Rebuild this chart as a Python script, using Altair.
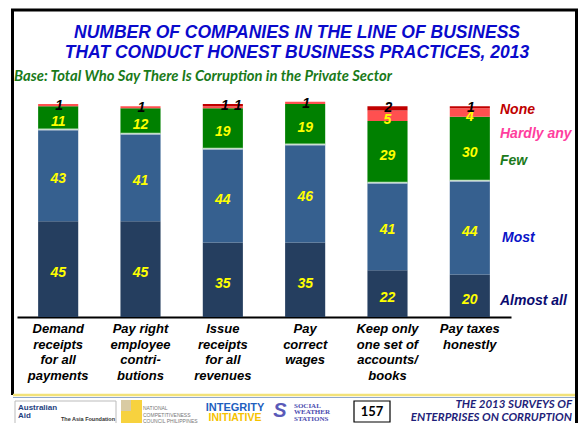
import altair as alt
import pandas as pd

# ---------------- data ----------------
categories = [
    "Demand\nreceipts\nfor all\npayments",
    "Pay right\nemployee\ncontri-\nbutions",
    "Issue\nreceipts\nfor all\nrevenues",
    "Pay\ncorrect\nwages",
    "Keep only\none set of\naccounts/\nbooks",
    "Pay taxes\nhonestly",
]
series = ["Almost all", "Most", "Few", "Hardly any", "None"]
almost_all = [45, 45, 35, 35, 22, 20]
most = [43, 41, 44, 46, 41, 44]
few = [11, 12, 19, 19, 29, 30]
hardly_any = [1, 1, 1, 1, 5, 4]
none_ = [0, 0, 1, 0, 2, 1]

bar_colors = ["#253E5F", "#36608F", "#008000", "#FF5050", "#C00000"]
legend_colors = ["#0B0B70", "#0B14C8", "#1B7A1B", "#FF3E9E", "#C00000"]

title_lines = [
    "NUMBER OF COMPANIES IN THE LINE OF BUSINESS",
    "THAT CONDUCT HONEST BUSINESS PRACTICES, 2013",
]
subtitle = "Base: Total Who Say There Is Corruption in the Private Sector"
footer_right = ["THE 2013 SURVEYS OF", "ENTERPRISES ON CORRUPTION"]
page_number = "157"

# ---------------- table ----------------
values_by_series = [almost_all, most, few, hardly_any, none_]
rows = []
for i, cat in enumerate(categories):
    cum = 0
    total = sum(v[i] for v in values_by_series)
    small = [s for s, v in zip(series, values_by_series)
             if s in ("Hardly any", "None") and 0 < v[i] < 3]
    paired = len(small) > 1
    for s, vals in zip(series, values_by_series):
        v = vals[i]
        start, end = cum, cum + v
        cum = end
        if s in ("Almost all", "Most", "Few") or (s == "Hardly any" and v >= 3):
            role = "yellow"
        elif v > 0 and s in small:
            if not paired:
                role = "black"
            else:
                role = "black_left" if s == "Hardly any" else "black_right"
        else:
            role = "hidden"
        rows.append(dict(category=cat, series=s, value=v, start=start, end=end,
                         mid=(start + end) / 2, top=total, role=role))
df = pd.DataFrame(rows)
cat_df = pd.DataFrame({"category": categories})

# ---------------- geometry ----------------
W, H = 494, 213
OX, OY = 17, 104  # page position of plot origin


def px(x):
    return x - OX


def py(y):
    return y - OY


one = pd.DataFrame({"k": [0]})
FONT = "Liberation Sans"

xenc = alt.X(
    "category:N", sort=categories,
    scale=alt.Scale(paddingInner=0.513, paddingOuter=0.2567),
    axis=alt.Axis(labels=False, ticks=False, title=None, grid=False,
                  domainColor="black", domainWidth=2),
)
yscale = alt.Scale(domain=[0, 100], nice=False, zero=True)

bars = alt.Chart(df).transform_filter("datum.value > 0").mark_bar().encode(
    x=xenc,
    y=alt.Y("start:Q", scale=yscale, axis=None),
    y2="end:Q",
    color=alt.Color("series:N", scale=alt.Scale(domain=series, range=bar_colors), legend=None),
)

seps = alt.Chart(df).transform_filter("datum.series == 'Most'").mark_tick(
    color="white", thickness=2, size=40
).encode(x=xenc, y=alt.Y("end:Q", scale=yscale, axis=None))

txt_style = dict(font=FONT, fontWeight="bold", fontStyle="italic", fontSize=14, baseline="middle")

yellow = alt.Chart(df).transform_filter("datum.role == 'yellow'").mark_text(
    color="#FFFF00", dy=4, **txt_style
).encode(x=xenc, y=alt.Y("mid:Q", scale=yscale, axis=None), text="value:Q")

black_layers = []
for role, dx in [("black", 1), ("black_left", 2), ("black_right", 15)]:
    black_layers.append(
        alt.Chart(df).transform_filter(f"datum.role == '{role}'").mark_text(
            color="black", dy=2, dx=dx, **txt_style
        ).encode(x=xenc, y=alt.Y("top:Q", scale=yscale, axis=None), text="value:Q")
    )

cat_labels = alt.Chart(cat_df).mark_text(
    font=FONT, fontWeight="bold", fontStyle="italic", fontSize=13,
    lineBreak="\n", lineHeight=15.5, baseline="alphabetic", color="black"
).encode(x=xenc, y=alt.value(py(333)), text="category:N")


def txt(text, x, y, size, color, font=FONT, align="center", weight="bold",
        style="italic", baseline="middle"):
    props = dict(text=text, font=font, fontSize=size, color=color, align=align,
                 fontWeight=weight, baseline=baseline)
    if style:
        props["fontStyle"] = style
    return alt.Chart(one).mark_text(**props).encode(
        x=alt.value(px(x)), y=alt.value(py(y)))


def line(x1, y1, x2, y2, color, width):
    return alt.Chart(one).mark_rule(color=color, strokeWidth=width).encode(
        x=alt.value(px(x1)), x2=alt.value(px(x2)),
        y=alt.value(py(y1)), y2=alt.value(py(y2)))


def rect(x1, y1, x2, y2, fill, stroke=None, sw=0):
    props = dict(fill=fill)
    if stroke:
        props.update(stroke=stroke, strokeWidth=sw)
    return alt.Chart(one).mark_rect(**props).encode(
        x=alt.value(px(x1)), x2=alt.value(px(x2)),
        y=alt.value(py(y1)), y2=alt.value(py(y2)))


deco = [
    # frame
    line(11, 10, 578, 10, "black", 3),
    line(12.5, 9, 12.5, 395, "black", 3),
    line(576.5, 9, 576.5, 431, "black", 3),
    # footer separator
    line(13, 395, 575, 395, "#F2E27A", 2.5),
    line(13, 397.5, 575, 397.5, "#8FA8CF", 1),
    # titles
    txt(title_lines[0], 297, 33, 17.5, "#0A0ACC"),
    txt(title_lines[1], 297, 53, 17.5, "#0A0ACC"),
    txt(subtitle, 14, 77, 14.8, "#1A7A1A", font="Lato", align="left"),
    # legend
    txt(series[4], 500, 110, 14, legend_colors[4], align="left"),
    txt(series[3], 500, 134, 14, legend_colors[3], align="left"),
    txt(series[2], 500, 161, 14, legend_colors[2], align="left"),
    txt(series[1], 502, 238, 14, legend_colors[1], align="left"),
    txt(series[0], 500, 301, 14, legend_colors[0], align="left"),
    # footer logos (approximations)
    rect(15, 401, 116, 431, "white", "#BBBBBB", 1),
    txt("Australian", 18, 407.5, 8, "#1F3F7F", align="left", style=None),
    txt("Aid", 18, 415.5, 8, "#1F3F7F", align="left", style=None),
    txt("The Asia Foundation", 88, 419, 5.5, "#333333", style=None),
    rect(121, 400, 142, 431, "#F7D23E"),
    rect(121, 400, 131, 411, "#D9CBA3"),
    txt("NATIONAL", 143, 408, 5, "#777777", align="left", weight="normal", style=None),
    txt("COMPETITIVENESS", 143, 414.5, 5, "#777777", align="left", weight="normal", style=None),
    txt("COUNCIL PHILIPPINES", 143, 421, 5, "#777777", align="left", weight="normal", style=None),
    txt("INTEGRITY", 235, 407.5, 11, "#1F5FBF", style=None),
    txt("INITIATIVE", 235, 417.5, 10.5, "#F5C200", style=None),
    txt("S", 280, 411, 20, "#5A5AB8"),
    txt("SOCIAL", 294, 405.5, 7, "#4B4BB0", font="Liberation Serif", align="left", style=None),
    txt("WEATHER", 294, 412, 7, "#4B4BB0", font="Liberation Serif", align="left", style=None),
    txt("STATIONS", 294, 418.5, 7, "#4B4BB0", font="Liberation Serif", align="left", style=None),
    rect(354, 401, 390, 422, "white", "black", 1.2),
    txt(page_number, 372, 411.5, 13, "black", font="Lato", style=None),
    txt(footer_right[0], 572, 404.5, 11.5, "#1F1F7A", font="Lato", align="right"),
    txt(footer_right[1], 572, 417.5, 11.5, "#1F1F7A", font="Lato", align="right"),
]

chart = alt.layer(bars, seps, yellow, *black_layers, cat_labels, *deco).properties(
    width=W, height=H,
    padding={"left": 9, "top": 96, "right": 67, "bottom": 106},
    autosize=alt.AutoSizeParams(type="none"),
    background="white",
).configure_view(strokeWidth=0)

chart.save("out.html", embed_options={"renderer": "svg", "actions": False})
